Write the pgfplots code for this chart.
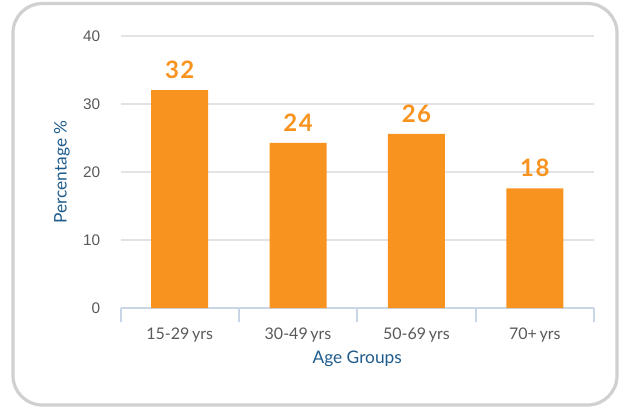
\documentclass[border=0pt]{standalone}
\usepackage{fontspec}
\setmainfont{Lato}
\newfontfamily\arialf{Liberation Sans}
\newfontfamily\labfont[LetterSpace=6]{Lato}
\usepackage{pgfplots}
\pgfplotsset{compat=1.18}
\definecolor{barorange}{HTML}{F7931E}
\definecolor{titleblue}{HTML}{1F5C8C}
\definecolor{tickgray}{HTML}{595959}
\definecolor{gridgray}{HTML}{E3E3E3}
\definecolor{axisblue}{HTML}{C9D6E8}
\definecolor{framegray}{HTML}{D0D0D0}
\begin{document}
\begin{tikzpicture}
\useasboundingbox (0,0) rectangle (465pt,305.25pt);
\draw[framegray, line width=2.4pt, rounded corners=22pt] (9.75pt,1.5pt) rectangle (462.75pt,302.6pt);
\begin{axis}[
  at={(90.375pt,74.25pt)}, anchor=south west,
  scale only axis, width=355.1pt, height=204pt,
  ymin=0, ymax=40, ytick={0,10,...,40},
  xmin=-0.5, xmax=3.5, xtick={0,1,2,3},
  xticklabels={15-29\,yrs,30-49\,yrs,50-69\,yrs,70+\,yrs},
  ybar, bar width=42.75pt,
  ymajorgrids, grid style={gridgray, line width=1.2pt},
  axis x line*=bottom, axis y line*=left,
  x axis line style={draw=axisblue, line width=1.5pt, -},
  y axis line style={draw=none},
  xtick style={draw=none}, ytick style={draw=none},
  extra x ticks={-0.5,0.5,1.5,2.5,3.5}, extra x tick labels={},
  extra x tick style={xtick style={draw=axisblue, line width=1.5pt}, major tick length=10.5pt, tick align=outside, grid=none},
  /pgf/number format/assume math mode=true,
  yticklabel style={font=\arialf\fontsize{11.5}{13}\selectfont, text=tickgray, inner sep=0pt, anchor=east, xshift=-15pt},
  xticklabel style={font=\fontsize{12}{14}\selectfont, text=tickgray, inner sep=0pt, anchor=north, yshift=-10.5pt},
  ylabel={Percentage \%},
  ylabel style={font=\fontsize{13}{15}\selectfont, text=titleblue, at={(axis description cs:-0.1236,0.5)}, anchor=center},
  xlabel={Age Groups},
  xlabel style={font=\fontsize{13}{15}\selectfont, text=titleblue, at={(axis description cs:0.5,-0.186)}, anchor=center},
  nodes near coords, point meta=explicit symbolic,
  nodes near coords style={font=\labfont\bfseries\fontsize{18}{20}\selectfont, text=barorange, inner sep=0pt, anchor=south, yshift=8.5pt},
]
\addplot[fill=barorange, draw=none] table[meta=lab] {
x y lab
0 32.05 32
1 24.3 24
2 25.6 26
3 17.6 18
};
\end{axis}
\end{tikzpicture}
\end{document}
